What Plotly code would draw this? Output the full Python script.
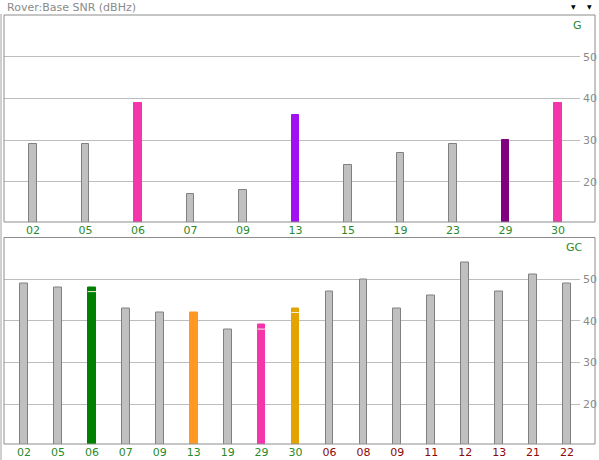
import plotly.graph_objects as go

W, H = 599, 460

# ---- data ----
g_cats = ["02", "05", "06", "07", "09", "13", "15", "19", "23", "29", "30"]
g_vals = [29, 29, 39, 17, 18, 36, 24, 27, 29, 30, 39]
g_colors = ["#C0C0C0", "#C0C0C0", "#F535AA", "#C0C0C0", "#C0C0C0", "#A010F0",
            "#C0C0C0", "#C0C0C0", "#C0C0C0", "#800080", "#F535AA"]

gc_cats = ["02", "05", "06", "07", "09", "13", "19", "29", "30",
           "06 ", "08", "09 ", "11", "12", "13 ", "21", "22"]
gc_labels = ["02", "05", "06", "07", "09", "13", "19", "29", "30",
             "06", "08", "09", "11", "12", "13", "21", "22"]
gc_label_colors = ["#2A8A2A"] * 9 + ["#8B0A0A"] * 8
gc_vals = [49, 48, 48, 43, 42, 42, 38, 39, 43, 47, 50, 43, 46, 54, 47, 51, 49]
gc_base = [None, None, 47, None, None, None, None, 38, 42, None, None, None, None, None, None, None, None]
gc_colors = ["#C0C0C0", "#C0C0C0", "#008000", "#C0C0C0", "#C0C0C0", "#FF9922",
             "#C0C0C0", "#F535AA", "#E3A300", "#C0C0C0", "#C0C0C0", "#C0C0C0",
             "#C0C0C0", "#C0C0C0", "#C0C0C0", "#C0C0C0", "#C0C0C0"]

y_ticks = [20, 30, 40, 50]
y_range = [10.4, 60]


def border(c):
    if c == "#C0C0C0":
        return "#808080"
    return c


fig = go.Figure()

fig.add_trace(go.Bar(
    x=list(range(len(g_cats))), y=g_vals, width=0.15,
    marker=dict(color=g_colors, line=dict(color=[border(c) for c in g_colors], width=1)),
    xaxis="x", yaxis="y", showlegend=False, hoverinfo="x+y"))

fig.add_trace(go.Bar(
    x=list(range(len(gc_cats))), y=gc_vals, width=0.23,
    marker=dict(color=gc_colors, line=dict(color=[border(c) for c in gc_colors], width=1)),
    xaxis="x2", yaxis="y2", showlegend=False, hoverinfo="x+y"))

fig.add_trace(go.Scatter(
    x=list(range(len(gc_cats))), y=gc_base, mode="markers",
    marker=dict(symbol="line-ew", size=6, line=dict(color="#F4F4E8", width=1)),
    xaxis="x2", yaxis="y2", showlegend=False, hoverinfo="skip"))

x0p, x1p = 4, 580  # plot x in px


def px_x(v):
    return v / W


def px_y(v):
    return 1 - v / H


font_fam = "DejaVu Sans, Tahoma, sans-serif"

# category centers: top 33 + 52.5 i ; bottom 24 + 33.94 i
top_rng = [(x0p - 33) / 52.5, (x1p - 33) / 52.5]
bot_rng = [(x0p - 24) / 33.94, (x1p - 24) / 33.94]

axis_common = dict(showgrid=False, zeroline=False, showline=False, ticks="",
                   tickfont=dict(family=font_fam, size=11), fixedrange=True)

fig.update_layout(
    width=W, height=H, margin=dict(l=0, r=0, t=0, b=0),
    paper_bgcolor="white", plot_bgcolor="white", bargap=0,
    xaxis=dict(domain=[px_x(x0p), px_x(x1p)], range=top_rng, anchor="y",
               tickmode="array", tickvals=list(range(len(g_cats))),
               ticktext=[f'<span style="color:#2A8A2A">{c}</span>' for c in g_cats],
               **axis_common),
    yaxis=dict(domain=[px_y(222), px_y(15)], range=y_range, anchor="x", side="right",
               tickvals=y_ticks, showgrid=True, gridcolor="#BDBDBD", gridwidth=1,
               zeroline=False, showline=False, ticks="", ticklabelstandoff=2,
               tickfont=dict(family=font_fam, size=11, color="#8A8A8A"), fixedrange=True),
    xaxis2=dict(domain=[px_x(x0p), px_x(x1p)], range=bot_rng, anchor="y2",
                tickmode="array", tickvals=list(range(len(gc_cats))),
                ticktext=[f'<span style="color:{col}">{t}</span>' for t, col in zip(gc_labels, gc_label_colors)],
                **axis_common),
    yaxis2=dict(domain=[px_y(444), px_y(237.5)], range=y_range, anchor="x2", side="right",
                tickvals=y_ticks, showgrid=True, gridcolor="#BDBDBD", gridwidth=1,
                zeroline=False, showline=False, ticks="", ticklabelstandoff=2,
                tickfont=dict(family=font_fam, size=11, color="#8A8A8A"), fixedrange=True),
)

shapes = []
# panel frames
for (ytop, ybot) in [(15, 222), (237.5, 444)]:
    shapes.append(dict(type="rect", xref="paper", yref="paper",
                       x0=px_x(4), x1=px_x(595), y0=px_y(ybot), y1=px_y(ytop),
                       line=dict(color="#8C8C8C", width=1), fillcolor="rgba(0,0,0,0)", layer="above"))
# outer left line
shapes.append(dict(type="line", xref="paper", yref="paper",
                   x0=px_x(1), x1=px_x(1), y0=0, y1=px_y(14),
                   line=dict(color="#A0A0A0", width=1)))
fig.update_layout(shapes=shapes)

annos = [
    dict(text="Rover:Base SNR (dBHz)", x=px_x(5), y=px_y(7), xref="paper", yref="paper",
         xanchor="left", yanchor="middle", showarrow=False,
         font=dict(family=font_fam, size=11, color="#8A8A8A")),
    dict(text="▼", x=px_x(573), y=px_y(6), xref="paper", yref="paper",
         xanchor="center", yanchor="middle", showarrow=False,
         font=dict(family=font_fam, size=6, color="#000000")),
    dict(text="▼", x=px_x(589), y=px_y(6), xref="paper", yref="paper",
         xanchor="center", yanchor="middle", showarrow=False,
         font=dict(family=font_fam, size=6, color="#000000")),
    dict(text="G", x=px_x(577), y=px_y(25), xref="paper", yref="paper",
         xanchor="center", yanchor="middle", showarrow=False,
         font=dict(family=font_fam, size=11, color="#2A8A2A")),
    dict(text="GC", x=px_x(574), y=px_y(247), xref="paper", yref="paper",
         xanchor="center", yanchor="middle", showarrow=False,
         font=dict(family=font_fam, size=11, color="#2A8A2A")),
]
fig.update_layout(annotations=annos)

fig.write_html("out.html", config={"displayModeBar": False},
               post_script="document.body.style.margin='0';document.body.style.overflow='hidden';")
